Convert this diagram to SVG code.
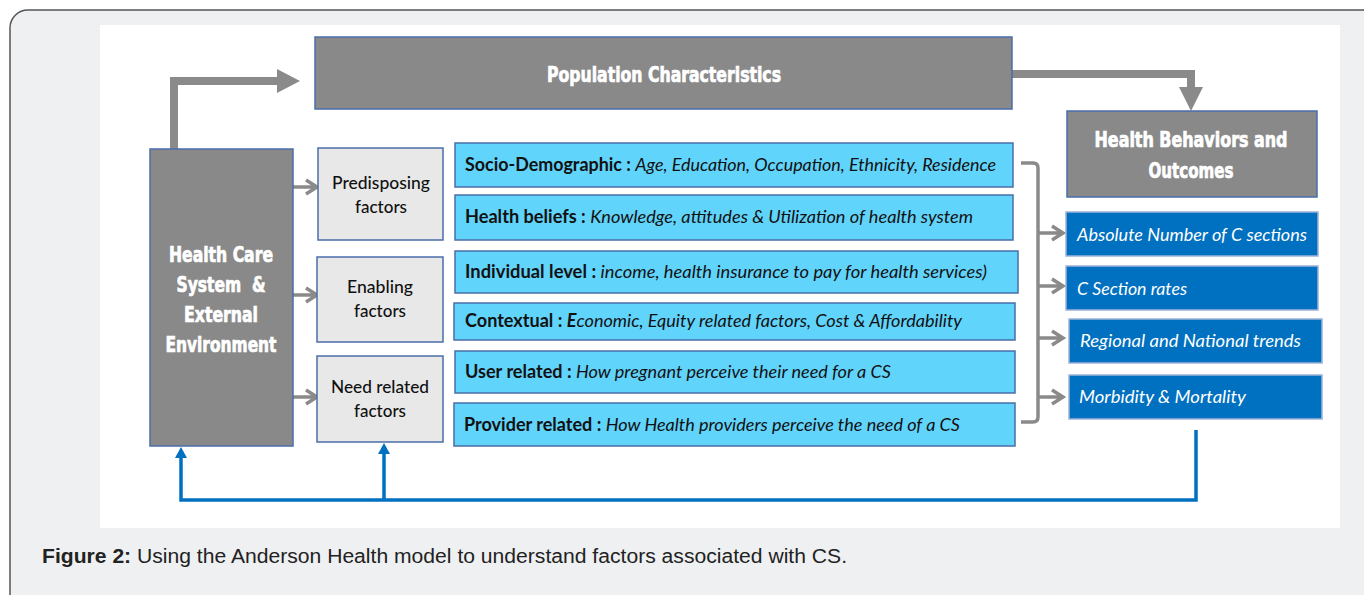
<svg xmlns="http://www.w3.org/2000/svg" width="1364" height="595" viewBox="0 0 1364 595">
  <style>
    .gbox { fill: #898989; stroke: #4a6ea8; stroke-width: 1.5; }
    .fbox { fill: #e8e8e8; stroke: #4a6ea8; stroke-width: 1.5; }
    .cbox { fill: #61d4fc; stroke: #4a6ea8; stroke-width: 1.5; }
    .dbox { fill: #0070c0; stroke: #9fb4d8; stroke-width: 1.5; }
    .head { font-family: 'Liberation Sans Narrow', 'DejaVu Sans Condensed', 'DejaVu Sans', sans-serif; font-stretch: condensed; font-weight: bold; fill: #ffffff; stroke: #ffffff; stroke-width: 0.7; text-anchor: middle; font-size: 21px; }
    .cal { font-family: Lato, 'Noto Sans', sans-serif; font-size: 18px; fill: #111111; }
    .fac { text-anchor: middle; font-size: 17.5px; font-weight: 500; }
    .b { font-weight: bold; }
    .i { font-style: italic; }
    .wi { font-family: Lato, 'Noto Sans', sans-serif; font-size: 18px; font-style: italic; fill: #ffffff; }
    .garrow { fill: none; stroke: #8a8a8a; stroke-width: 3.5; }
    .gthick { fill: #8a8a8a; stroke: none; }
    .blue { fill: none; stroke: #0070c0; stroke-width: 3.5; }
    .bhead { fill: #0070c0; }
    .cap { font-family: 'Liberation Sans', Arial, sans-serif; font-size: 20px; fill: #222222; }
  </style>

  <!-- page frame and figure panel -->
  <rect x="10" y="10" width="1380" height="610" rx="18" fill="#eff0f2" stroke="#555555" stroke-width="1.5"/>
  <rect x="100" y="25" width="1240" height="503" fill="#ffffff"/>

  <!-- connectors -->
  <g id="connectors">
    <polygon class="gthick" points="170,149 170,77 277,77 277,69 300,81 277,93 277,85 178,85 178,149"/>
    <polygon class="gthick" points="1012,70 1195,70 1195,87 1203,87 1191,111 1179,87 1187,87 1187,78 1012,78"/>

    <path class="garrow" d="M293,187 H316 M306,180 L317,187 L306,194"/>
    <path class="garrow" d="M293,295 H316 M306,288 L317,295 L306,302"/>
    <path class="garrow" d="M293,397 H316 M306,390 L317,397 L306,404"/>

    <path class="garrow" d="M1021,163 H1033 Q1038,163 1038,168 V417 Q1038,422 1033,422 H1021"/>
    <path class="garrow" d="M1038,233 H1062 M1052,226 L1063,233 L1052,240"/>
    <path class="garrow" d="M1038,286 H1062 M1052,279 L1063,286 L1052,293"/>
    <path class="garrow" d="M1038,338 H1062 M1052,331 L1063,338 L1052,345"/>
    <path class="garrow" d="M1038,397 H1062 M1052,390 L1063,397 L1052,404"/>

    <path class="blue" d="M1196,430 V500 H181 V456 M384,500 V452"/>
    <polygon class="bhead" points="175,458 187,458 181,447"/>
    <polygon class="bhead" points="378,454 390,454 384,443"/>
  </g>

  <g id="population">
    <rect class="gbox" x="315" y="37" width="697" height="72"/>
    <text class="head" x="664" y="82" textLength="234" lengthAdjust="spacingAndGlyphs">Population Characteristics</text>
  </g>

  <g id="outcomes">
    <rect class="gbox" x="1067" y="111" width="250" height="86"/>
    <text class="head" x="1191" y="147" textLength="193" lengthAdjust="spacingAndGlyphs">Health Behaviors and</text>
    <text class="head" x="1191" y="178" textLength="85" lengthAdjust="spacingAndGlyphs">Outcomes</text>
  </g>

  <g id="health-care">
    <rect class="gbox" x="150" y="149" width="143" height="297"/>
    <text class="head" x="221" y="262" textLength="104" lengthAdjust="spacingAndGlyphs">Health Care</text>
    <text class="head" x="221" y="292" textLength="89" lengthAdjust="spacingAndGlyphs" xml:space="preserve">System  &amp;</text>
    <text class="head" x="221" y="322" textLength="74" lengthAdjust="spacingAndGlyphs">External</text>
    <text class="head" x="221" y="352" textLength="111" lengthAdjust="spacingAndGlyphs">Environment</text>
  </g>

  <g id="predisposing">
    <rect class="fbox" x="318" y="148" width="125" height="92"/>
    <text class="cal fac" x="381" y="189" textLength="98" lengthAdjust="spacingAndGlyphs">Predisposing</text>
    <text class="cal fac" x="381" y="213" textLength="52" lengthAdjust="spacingAndGlyphs">factors</text>
  </g>
  <g id="enabling">
    <rect class="fbox" x="317" y="257" width="126" height="85"/>
    <text class="cal fac" x="380" y="293" textLength="66" lengthAdjust="spacingAndGlyphs">Enabling</text>
    <text class="cal fac" x="380" y="317" textLength="52" lengthAdjust="spacingAndGlyphs">factors</text>
  </g>
  <g id="need">
    <rect class="fbox" x="317" y="356" width="126" height="86"/>
    <text class="cal fac" x="380" y="393" textLength="98" lengthAdjust="spacingAndGlyphs">Need related</text>
    <text class="cal fac" x="380" y="417" textLength="52" lengthAdjust="spacingAndGlyphs">factors</text>
  </g>

  <g id="socio">
    <rect class="cbox" x="455" y="143" width="558" height="44"/>
    <text class="cal" x="465" y="171" textLength="531" lengthAdjust="spacingAndGlyphs"><tspan class="b">Socio-Demographic : </tspan><tspan class="i">Age, Education, Occupation, Ethnicity, Residence</tspan></text>
  </g>
  <g id="beliefs">
    <rect class="cbox" x="455" y="195" width="558" height="45"/>
    <text class="cal" x="465" y="223" textLength="508" lengthAdjust="spacingAndGlyphs"><tspan class="b">Health beliefs : </tspan><tspan class="i">Knowledge, attitudes &amp; Utilization of health system</tspan></text>
  </g>
  <g id="individual">
    <rect class="cbox" x="455" y="251" width="563" height="42"/>
    <text class="cal" x="465" y="278" textLength="522" lengthAdjust="spacingAndGlyphs"><tspan class="b">Individual level : </tspan><tspan class="i">income, health insurance to pay for health services)</tspan></text>
  </g>
  <g id="contextual">
    <rect class="cbox" x="454" y="303" width="561" height="37"/>
    <text class="cal" x="465" y="327" textLength="497" lengthAdjust="spacingAndGlyphs"><tspan class="b">Contextual : </tspan><tspan class="i"><tspan class="b">E</tspan>conomic, Equity related factors, Cost &amp; Affordability</tspan></text>
  </g>
  <g id="user">
    <rect class="cbox" x="455" y="351" width="560" height="42"/>
    <text class="cal" x="465" y="378" textLength="426" lengthAdjust="spacingAndGlyphs"><tspan class="b">User related : </tspan><tspan class="i">How pregnant perceive their need for a CS</tspan></text>
  </g>
  <g id="provider">
    <rect class="cbox" x="454" y="403" width="561" height="43"/>
    <text class="cal" x="464" y="431" textLength="496" lengthAdjust="spacingAndGlyphs"><tspan class="b">Provider related : </tspan><tspan class="i">How Health providers perceive the need of a CS</tspan></text>
  </g>

  <g id="absolute">
    <rect class="dbox" x="1066" y="212" width="252" height="44"/>
    <text class="wi" x="1077" y="241" textLength="230" lengthAdjust="spacingAndGlyphs">Absolute Number of C sections</text>
  </g>
  <g id="rates">
    <rect class="dbox" x="1066" y="266" width="252" height="44"/>
    <text class="wi" x="1077" y="295" textLength="110" lengthAdjust="spacingAndGlyphs">C Section rates</text>
  </g>
  <g id="trends">
    <rect class="dbox" x="1069" y="319" width="253" height="44"/>
    <text class="wi" x="1080" y="347" textLength="221" lengthAdjust="spacingAndGlyphs">Regional and National trends</text>
  </g>
  <g id="morbidity">
    <rect class="dbox" x="1069" y="375" width="253" height="44"/>
    <text class="wi" x="1079" y="403" textLength="167" lengthAdjust="spacingAndGlyphs">Morbidity &amp; Mortality</text>
  </g>

  <text class="cap" x="42" y="563" textLength="805" lengthAdjust="spacingAndGlyphs"><tspan font-weight="bold">Figure 2:</tspan> Using the Anderson Health model to understand factors associated with CS.</text>
</svg>
